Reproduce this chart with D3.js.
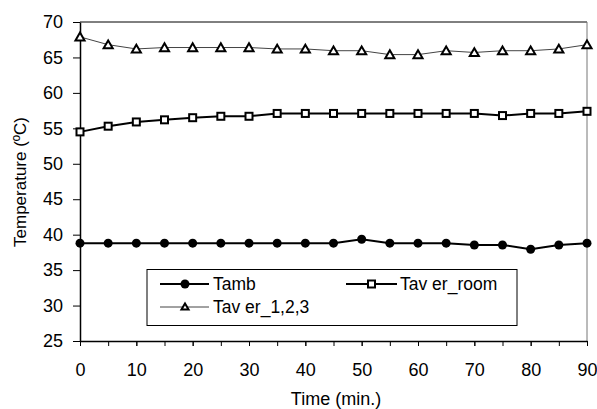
<!DOCTYPE html>
<html>
<head>
<meta charset="utf-8">
<script src="https://cdn.jsdelivr.net/npm/d3@7"></script>
<style>
  body { margin: 0; background: #fff; }
  text { font-family: "Liberation Sans", Arial, sans-serif; }
</style>
</head>
<body>
<svg id="chart" width="597" height="409"></svg>
<script>
// data
var times = [0, 5, 10, 15, 20, 25, 30, 35, 40, 45, 50, 55, 60, 65, 70, 75, 80, 85, 90];
var tamb = [38.8, 38.8, 38.8, 38.8, 38.8, 38.8, 38.8, 38.8, 38.8, 38.8, 39.35, 38.8, 38.8, 38.8, 38.55, 38.55, 37.95, 38.55, 38.8];
var taverRoom = [54.5, 55.3, 55.9, 56.2, 56.5, 56.7, 56.7, 57.1, 57.1, 57.1, 57.1, 57.1, 57.1, 57.1, 57.1, 56.8, 57.1, 57.1, 57.4];
var taver123 = [67.9, 66.8, 66.2, 66.4, 66.4, 66.4, 66.4, 66.2, 66.2, 65.95, 65.95, 65.4, 65.4, 65.95, 65.7, 65.95, 65.95, 66.2, 66.8];
var xTicks = [0, 10, 20, 30, 40, 50, 60, 70, 80, 90];
var yTicks = [25, 30, 35, 40, 45, 50, 55, 60, 65, 70];

var margin = {top: 22, right: 10, bottom: 68, left: 80},
    width = 597 - margin.left - margin.right,
    height = 409 - margin.top - margin.bottom;

var svg = d3.select("#chart")
  .append("g")
  .attr("transform", "translate(" + margin.left + "," + margin.top + ")");

var x = d3.scaleLinear().domain([0, 90]).range([0, width]);
var y = d3.scaleLinear().domain([25, 70]).range([height, 0]);

// frame top / right
svg.append("line").attr("x1", 0).attr("x2", width).attr("y1", 0).attr("y2", 0)
  .attr("stroke", "#000").attr("stroke-width", 1);
svg.append("line").attr("x1", width).attr("x2", width).attr("y1", 0).attr("y2", height)
  .attr("stroke", "#777").attr("stroke-width", 1);

// minor ticks every 5 on x
var xAxis = svg.append("g")
  .attr("transform", "translate(0," + height + ")")
  .call(d3.axisBottom(x).tickValues(times).tickSize(5).tickFormat(""));
xAxis.select(".domain").remove();

var xLab = svg.append("g")
  .attr("transform", "translate(0," + height + ")")
  .call(d3.axisBottom(x).tickValues(xTicks).tickSize(5).tickPadding(17).tickSizeOuter(0));
xLab.selectAll("text").style("font-size", "18px").attr("fill", "#000");
xLab.select(".domain").attr("stroke-width", 1.5);

var yAx = svg.append("g")
  .call(d3.axisLeft(y).tickValues(yTicks).tickSize(7).tickPadding(10).tickSizeOuter(0));
yAx.selectAll("text").style("font-size", "18px").attr("fill", "#000");
yAx.select(".domain").attr("stroke-width", 1.5);

var line = d3.line()
  .x(function(d, i) { return x(times[i]); })
  .y(function(d) { return y(d); });

var tri = d3.symbol().type(d3.symbolTriangle).size(36);

// Taver_1,2,3
svg.append("path").datum(taver123).attr("d", line)
  .attr("fill", "none").attr("stroke", "#444").attr("stroke-width", 1);
svg.selectAll(".tri").data(taver123).enter().append("path")
  .attr("class", "tri")
  .attr("d", tri)
  .attr("transform", function(d, i) { return "translate(" + x(times[i]) + "," + (y(d) + 1) + ")"; })
  .attr("fill", "#fff").attr("stroke", "#000").attr("stroke-width", 2);

// Taver_room
svg.append("path").datum(taverRoom).attr("d", line)
  .attr("fill", "none").attr("stroke", "#000").attr("stroke-width", 2);
svg.selectAll(".sq").data(taverRoom).enter().append("rect")
  .attr("class", "sq")
  .attr("x", function(d, i) { return x(times[i]) - 3.5; })
  .attr("y", function(d) { return y(d) - 3.5; })
  .attr("width", 7).attr("height", 7)
  .attr("fill", "#fff").attr("stroke", "#000").attr("stroke-width", 2);

// Tamb
svg.append("path").datum(tamb).attr("d", line)
  .attr("fill", "none").attr("stroke", "#000").attr("stroke-width", 2);
svg.selectAll(".dot").data(tamb).enter().append("circle")
  .attr("class", "dot")
  .attr("cx", function(d, i) { return x(times[i]); })
  .attr("cy", function(d) { return y(d); })
  .attr("r", 4.5).attr("fill", "#000");

// legend
var lg = d3.select("#chart").append("g");
lg.append("rect").attr("x", 147).attr("y", 269.5).attr("width", 370).attr("height", 56)
  .attr("fill", "#fff").attr("stroke", "#000").attr("stroke-width", 1);

lg.append("line").attr("x1", 160).attr("x2", 209).attr("y1", 284).attr("y2", 284)
  .attr("stroke", "#000").attr("stroke-width", 2);
lg.append("circle").attr("cx", 185).attr("cy", 284).attr("r", 4.5).attr("fill", "#000");
lg.append("text").attr("x", 213).attr("y", 290).text("Tamb").style("font-size", "17.5px");

lg.append("line").attr("x1", 346).attr("x2", 397).attr("y1", 284).attr("y2", 284)
  .attr("stroke", "#000").attr("stroke-width", 2);
lg.append("rect").attr("x", 368).attr("y", 280.5).attr("width", 7).attr("height", 7)
  .attr("fill", "#fff").attr("stroke", "#000").attr("stroke-width", 2);
lg.append("text").attr("x", 400).attr("y", 290).text("Tav er_room").style("font-size", "17.5px");

lg.append("line").attr("x1", 160).attr("x2", 209).attr("y1", 307).attr("y2", 307)
  .attr("stroke", "#444").attr("stroke-width", 1);
lg.append("path").attr("d", d3.symbol().type(d3.symbolTriangle).size(22))
  .attr("transform", "translate(185,307.5)")
  .attr("fill", "#fff").attr("stroke", "#000").attr("stroke-width", 2);
lg.append("text").attr("x", 213).attr("y", 313).text("Tav er_1,2,3").style("font-size", "17.5px");

// axis titles
d3.select("#chart").append("text")
  .attr("transform", "translate(26,182) rotate(-90)")
  .attr("text-anchor", "middle")
  .style("font-size", "17px")
  .text("Temperature (ºC)");

d3.select("#chart").append("text")
  .attr("x", 336).attr("y", 405)
  .attr("text-anchor", "middle")
  .style("font-size", "18px")
  .text("Time (min.)");
</script>
</body>
</html>
